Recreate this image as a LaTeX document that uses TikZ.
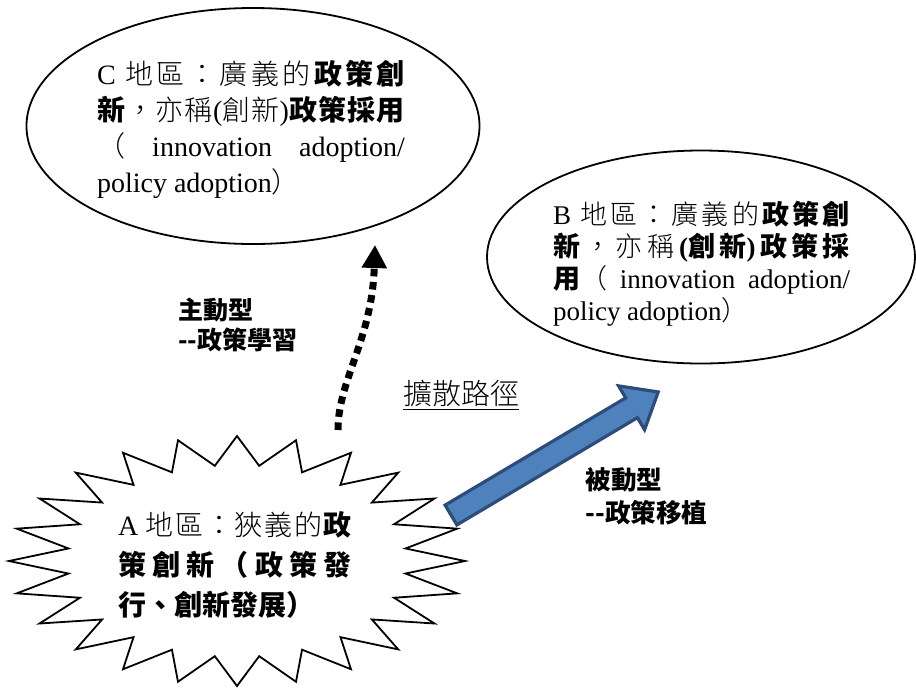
\documentclass[tikz,border=0pt]{standalone}
\usepackage{fontspec}
\setmainfont{Liberation Serif}
\IfFontExistsTF{Noto Sans CJK TC Light}
  {\newfontfamily\cjkl{Noto Sans CJK TC Light}}
  {\newfontfamily\cjkl{Noto Sans CJK TC}}
\newfontfamily\cjk{Noto Sans CJK TC}
\usetikzlibrary{arrows.meta,shapes.geometric}
\definecolor{bfill}{HTML}{4F81BD}
\definecolor{bline}{HTML}{2E4C7A}
\newcommand\zr[1]{{\cjkl #1}}
\newcommand\zb[1]{{\cjk\bfseries #1}}
\newcommand\jl[2]{\hbox to #1{#2}}
\begin{document}
\begin{tikzpicture}[x=0.5pt,y=-0.5pt,
  region/.style={draw, ellipse, line width=0.9pt, inner sep=0pt},
  txt/.style={inner sep=0pt, align=left},
  lbl/.style={inner sep=0pt, align=left, anchor=west},
  starline/.style={draw, line width=0.9pt, line join=miter},
  dotarrow/.style={line width=3.5pt, dash pattern=on 3.8pt off 2.8pt,
    -{Triangle[width=12pt,length=11.5pt]}},
  blockarrow/.style={draw=bline, fill=bfill, line width=1.6pt, line join=miter}]
\useasboundingbox (0,0) rectangle (916,687);
% C region
\node[region, minimum width=226.5pt, minimum height=118pt] (C) at (253,126) {};
\node[txt, font=\fontsize{14pt}{18pt}\selectfont] (Ct) at (251,129) {%
\jl{154pt}{C\hspace{3pt}\hfil \zr{地\hfil 區\hfil ：\hfil 廣\hfil 義\hfil 的}\hfil \zb{政\hfil 策\hfil 創}}\\
\jl{154pt}{\zb{新}\hfil \zr{，\hfil 亦\hfil 稱}\hfil (\zr{創\hfil 新})\hfil \zb{政\hfil 策\hfil 採\hfil 用}}\\
\jl{154pt}{\zr{（}\hfil innovation\hfil adoption/}\\
policy adoption\zr{）}};
% B region
\node[region, minimum width=214pt, minimum height=106.5pt] (B) at (701,257) {};
\node[txt, font=\fontsize{13.5pt}{16pt}\selectfont] (Bt) at (701.5,263.5) {%
\jl{148.5pt}{B\hspace{3pt}\hfil \zr{地\hfil 區\hfil ：\hfil 廣\hfil 義\hfil 的}\hfil \zb{政\hfil 策\hfil 創}}\\
\jl{148.5pt}{\zb{新}\hfil \zr{，\hfil 亦\hfil 稱}\hfil \textbf{(}\zb{創\hfil 新}\textbf{)}\hfil \zb{政\hfil 策\hfil 採}}\\
\jl{148.5pt}{\zb{用}\zr{（}\hfil innovation\hfil adoption/}\\
policy adoption\zr{）}};
% A star
\draw[starline] plot[samples at={0,7.5,...,352.5}]
  ({237+(199+29*cos(24*\x))*sin(\x)}, {561-(110.5+14.5*cos(24*\x))*cos(\x)}) -- cycle;
\node[txt, font=\fontsize{14pt}{20pt}\selectfont] (A) at (235,565) {%
\jl{117pt}{A\hspace{3pt}\hfil \zr{地\hfil 區\hfil ：\hfil 狹\hfil 義\hfil 的}\hfil \zb{政}}\\
\jl{117pt}{\zb{策\hfil 創\hfil 新\hfil （\hfil 政\hfil 策\hfil 發}}\\
\zb{行、創新發展）}};
% labels
\node[lbl, font=\fontsize{12.5pt}{15pt}\selectfont] (act) at (178,325) {\zb{主動型}\\\zb{-{}-政策學習}};
\node[lbl, font=\fontsize{12.8pt}{16.5pt}\selectfont] (pas) at (585,496.5) {\zb{被動型}\\\zb{-{}-政策移植}};
\node[inner sep=0pt, font=\fontsize{14.5pt}{16pt}\selectfont] (route) at (461,395) {\zr{\underline{擴散路徑}}};
% dotted arrow
\coordinate (dotS) at (338,430);
\coordinate (dotE) at (375,245);
\draw[dotarrow] (dotS) .. controls (338,380) and (372,340) .. (dotE);
% block arrow
\coordinate (blS) at (451,515);
\coordinate (blE) at (658,392);
\begin{scope}[shift={(blS)}, rotate=30.7]
\draw[blockarrow] (0,-11.5) -- (210,-11.5) -- (210,-25.5) -- (241,0) -- (210,25.5) -- (210,11.5) -- (0,11.5) -- cycle;
\end{scope}
\end{tikzpicture}
\end{document}
